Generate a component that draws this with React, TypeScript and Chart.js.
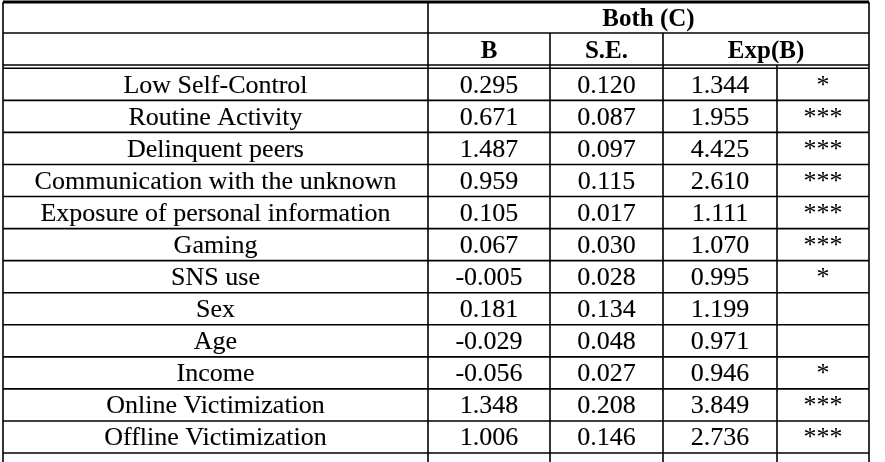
import React, { useEffect, useRef } from "react";
import { Chart, registerables } from "chart.js";

Chart.register(...registerables);

// ---- data ----
const groupHeader = "Both (C)";
const columnHeaders = ["B", "S.E.", "Exp(B)"];
const variables = [
  "Low Self-Control",
  "Routine Activity",
  "Delinquent peers",
  "Communication with the unknown",
  "Exposure of personal information",
  "Gaming",
  "SNS use",
  "Sex",
  "Age",
  "Income",
  "Online Victimization",
  "Offline Victimization",
];
const bValues = [0.295, 0.671, 1.487, 0.959, 0.105, 0.067, -0.005, 0.181, -0.029, -0.056, 1.348, 1.006];
const seValues = [0.12, 0.087, 0.097, 0.115, 0.017, 0.03, 0.028, 0.134, 0.048, 0.027, 0.208, 0.146];
const expValues = [1.344, 1.955, 4.425, 2.61, 1.111, 1.07, 0.995, 1.199, 0.971, 0.946, 3.849, 2.736];
const significance = ["*", "***", "***", "***", "***", "***", "*", "", "", "*", "***", "***"];

// ---- layout (scale units) ----
const X_MAX = 866;
const COL_EDGES = [0, 425, 547, 660, 774, 866];
const Y_UNIT_PX = 32.2;
const Y_MAX = 460 / Y_UNIT_PX;
const HEADER_EDGE_1 = 31 / Y_UNIT_PX;
const DOUBLE_A = 63 / Y_UNIT_PX;
const DOUBLE_B = 66.3 / Y_UNIT_PX;
const DATA_END = 451 / Y_UNIT_PX;
const DATA_ROW_H = (DATA_END - DOUBLE_B) / variables.length;

const FONT = '"Liberation Serif", "Times New Roman", serif';
const REG_FONT = `26px ${FONT}`;
const BOLD_FONT = `bold 25px ${FONT}`;

const colCenter = (a: number, b: number) => (COL_EDGES[a] + COL_EDGES[b]) / 2;
const dataRowCenter = (i: number) => DOUBLE_B + (i + 0.5) * DATA_ROW_H;

const tablePlugin = {
  id: "tableGrid",
  afterDraw(chart: any) {
    const { ctx } = chart;
    const xs = chart.scales.x;
    const ys = chart.scales.y;
    const px = (v: number) => xs.getPixelForValue(v);
    const py = (v: number) => ys.getPixelForValue(v);
    ctx.save();
    ctx.strokeStyle = "#000";
    const hline = (v: number, w: number) => {
      ctx.lineWidth = w;
      ctx.beginPath();
      ctx.moveTo(px(0), py(v));
      ctx.lineTo(px(X_MAX), py(v));
      ctx.stroke();
    };
    const vline = (v: number, from: number) => {
      ctx.lineWidth = 1.6;
      ctx.beginPath();
      ctx.moveTo(px(v), py(from));
      ctx.lineTo(px(v), py(Y_MAX));
      ctx.stroke();
    };
    hline(0, 3);
    hline(HEADER_EDGE_1, 1.6);
    hline(DOUBLE_A, 1.6);
    hline(DOUBLE_B, 1.6);
    for (let i = 1; i <= variables.length; i++) hline(DOUBLE_B + i * DATA_ROW_H, 1.6);
    vline(COL_EDGES[0], 0);
    vline(COL_EDGES[1], 0);
    vline(COL_EDGES[2], HEADER_EDGE_1);
    vline(COL_EDGES[3], HEADER_EDGE_1);
    vline(COL_EDGES[4], DOUBLE_A);
    vline(COL_EDGES[5], 0);

    ctx.fillStyle = "#000";
    ctx.strokeStyle = "#000";
    ctx.textAlign = "center";
    ctx.textBaseline = "alphabetic";
    ctx.lineJoin = "round";
    chart.data.datasets.forEach((ds: any, di: number) => {
      const meta = chart.getDatasetMeta(di);
      ctx.font = ds.font;
      ctx.lineWidth = ds.weightStroke;
      meta.data.forEach((el: any, j: number) => {
        const t = ds.texts[j];
        if (!t) return;
        ctx.fillText(t, el.x, el.y + ds.baselineShift);
        if (ds.weightStroke > 0) ctx.strokeText(t, el.x, el.y + ds.baselineShift);
      });
    });
    ctx.restore();
  },
};

export default function App() {
  const ref = useRef<HTMLCanvasElement>(null);
  useEffect(() => {
    document.body.style.margin = "0";
    const canvas = ref.current!;
    const mk = (xc: number, rows: number[], texts: string[], font: string, stroke: number) => ({
      data: rows.map((y) => ({ x: xc, y })),
      texts,
      font,
      baselineShift: 8.5,
      weightStroke: stroke,
      pointRadius: 0,
      showLine: false,
    });
    const rows = variables.map((_, i) => dataRowCenter(i));
    const hdr2 = (HEADER_EDGE_1 + DOUBLE_A) / 2;
    const datasets: any[] = [
      mk(colCenter(1, 5), [HEADER_EDGE_1 / 2], [groupHeader], BOLD_FONT, 0),
      mk(colCenter(1, 2), [hdr2], [columnHeaders[0]], BOLD_FONT, 0),
      mk(colCenter(2, 3), [hdr2], [columnHeaders[1]], BOLD_FONT, 0),
      mk(colCenter(3, 5), [hdr2], [columnHeaders[2]], BOLD_FONT, 0),
      mk(colCenter(0, 1), rows, variables, REG_FONT, 0.12),
      mk(colCenter(1, 2), rows, bValues.map((v) => v.toFixed(3)), REG_FONT, 0.12),
      mk(colCenter(2, 3), rows, seValues.map((v) => v.toFixed(3)), REG_FONT, 0.12),
      mk(colCenter(3, 4), rows, expValues.map((v) => v.toFixed(3)), REG_FONT, 0.12),
      mk(colCenter(4, 5), rows, significance, REG_FONT, 0),
    ];
    const chart = new Chart(canvas, {
      type: "scatter",
      data: { datasets },
      options: {
        animation: false,
        responsive: false,
        maintainAspectRatio: false,
        layout: { padding: { left: 3, right: 16, top: 2, bottom: 0 } },
        plugins: { legend: { display: false }, tooltip: { enabled: false } },
        events: [],
        scales: {
          x: { type: "linear", display: false, min: 0, max: X_MAX },
          y: { type: "linear", display: false, reverse: true, min: 0, max: Y_MAX },
        },
      },
      plugins: [tablePlugin],
    } as any);
    return () => chart.destroy();
  }, []);
  return (
    <div style={{ width: 885, height: 462, background: "#fff" }}>
      <canvas ref={ref} width={885} height={462} style={{ display: "block" }} />
    </div>
  );
}
